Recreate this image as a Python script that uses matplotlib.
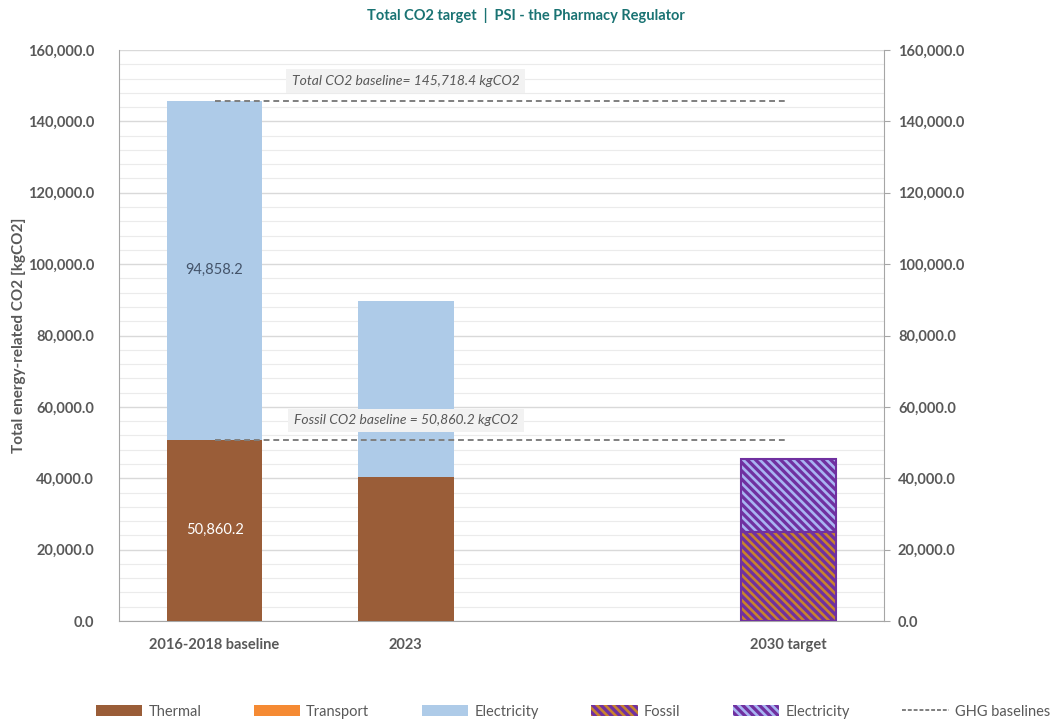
import matplotlib.pyplot as plt
from matplotlib.patches import Patch
from matplotlib.lines import Line2D
from matplotlib.ticker import MultipleLocator, FuncFormatter

plt.rcParams['font.family'] = ['Lato', 'DejaVu Sans']
plt.rcParams['hatch.linewidth'] = 1.9

# Data
categories = ['2016-2018 baseline', '2023', '', '2030 target']
thermal = [50860.2, 40400.0, 0, 0]
electricity = [94858.2, 49300.0, 0, 0]
target_fossil = [0, 0, 0, 24900.0]
target_electricity = [0, 0, 0, 20500.0]
total_baseline = 145718.4
fossil_baseline = 50860.2

c_thermal = '#9A5D38'
c_transport = '#F58A33'
c_elec = '#AECBE8'
c_purple = '#7030A0'
c_fossil_hatch = '#C8822E'
c_elec_hatch = '#A8B4F2'
grey_txt = '#595959'
hatch = '\\\\\\\\'

fig = plt.figure(figsize=(10.51, 7.26), dpi=100)
ax = fig.add_axes([0.1132, 0.1446, 0.7279, 0.7865])
x = list(range(len(categories)))
w = 0.5

ax.bar(x, thermal, w, color=c_thermal, zorder=3)
ax.bar(x, electricity, w, bottom=thermal, color=c_elec, zorder=3)

# hatched target bars
ax.bar(x, target_fossil, w, color=c_purple, edgecolor=c_fossil_hatch,
       hatch=hatch, linewidth=0, zorder=3)
ax.bar(x, target_electricity, w, bottom=target_fossil, color=c_purple,
       edgecolor=c_elec_hatch, hatch=hatch, linewidth=0, zorder=3)
ax.bar(x[3], target_fossil[3], w, fill=False, edgecolor=c_purple, linewidth=1.5, zorder=4)
ax.bar(x[3], target_electricity[3], w, bottom=target_fossil[3], fill=False,
       edgecolor=c_purple, linewidth=1.5, zorder=4)

# baselines
ax.plot([x[0], x[3]], [total_baseline, total_baseline], color='#7F7F7F',
        linestyle=(0, (3, 2)), linewidth=1.4, zorder=5)
ax.plot([x[0], x[3]], [fossil_baseline, fossil_baseline], color='#7F7F7F',
        linestyle=(0, (3, 2)), linewidth=1.4, zorder=5)
ax.text(1.0, total_baseline + 5600, f'Total CO2 baseline= {total_baseline:,.1f} kgCO2',
        ha='center', va='center', style='italic', fontsize=10, color=grey_txt,
        bbox=dict(facecolor='#F2F2F2', edgecolor='none', pad=4), zorder=6)
ax.text(1.0, fossil_baseline + 5400, f'Fossil CO2 baseline = {fossil_baseline:,.1f} kgCO2',
        ha='center', va='center', style='italic', fontsize=10, color=grey_txt,
        bbox=dict(facecolor='#F2F2F2', edgecolor='none', pad=4), zorder=6)

# data labels
ax.text(x[0], thermal[0] + electricity[0] / 2, f'{electricity[0]:,.1f}', ha='center',
        va='center', fontsize=10.5, color='#44546A', zorder=6)
ax.text(x[0], thermal[0] / 2, f'{thermal[0]:,.1f}', ha='center', va='center',
        fontsize=10.5, color='white', zorder=6)

ax.set_xlim(-0.5, 3.5)
ax.set_ylim(0, 160000)
ax.yaxis.set_major_locator(MultipleLocator(20000))
ax.yaxis.set_minor_locator(MultipleLocator(4000))
fmt = FuncFormatter(lambda v, p: f'{v:,.1f}')
ax.yaxis.set_major_formatter(fmt)
ax.grid(which='major', axis='y', color='#D9D9D9', linewidth=1, zorder=0)
ax.grid(which='minor', axis='y', color='#EBEBEB', linewidth=0.8, zorder=0)
ax.set_xticks(x)
ax.set_xticklabels(categories, fontsize=10.5, fontweight='bold', color=grey_txt)
ax.tick_params(axis='x', length=0, pad=12)
ax.tick_params(axis='y', which='both', length=0, pad=18, labelsize=10.5,
               labelcolor=grey_txt)
for lab in ax.get_yticklabels():
    lab.set_fontweight('bold')
for s in ['left', 'bottom', 'right']:
    ax.spines[s].set_color('#A6A6A6')
ax.spines['top'].set_visible(False)
ax.set_ylabel('Total energy-related CO2 [kgCO2]', fontsize=11, fontweight='bold',
              color=grey_txt, labelpad=1)

ax2 = ax.twinx()
ax2.set_ylim(ax.get_ylim())
ax2.yaxis.set_major_locator(MultipleLocator(20000))
ax2.yaxis.set_major_formatter(fmt)
ax2.tick_params(axis='y', length=4, color='#A6A6A6', pad=6, labelsize=10.5,
                labelcolor=grey_txt)
for lab in ax2.get_yticklabels():
    lab.set_fontweight('bold')
for s in ['left', 'bottom', 'right', 'top']:
    ax2.spines[s].set_visible(False)

fig.text(0.5, 0.978, 'Total CO2 target  |  PSI - the Pharmacy Regulator', ha='center',
         va='center', fontsize=10.5, fontweight='bold', color='#1A7373')

handles = [
    Patch(facecolor=c_thermal, label='Thermal'),
    Patch(facecolor=c_transport, label='Transport'),
    Patch(facecolor=c_elec, label='Electricity'),
    Patch(facecolor=c_purple, edgecolor=c_fossil_hatch, hatch=hatch, linewidth=0, label='Fossil'),
    Patch(facecolor=c_purple, edgecolor=c_elec_hatch, hatch=hatch, linewidth=0, label='Electricity'),
    Line2D([], [], color='#7F7F7F', linestyle=(0, (2, 1)), linewidth=1.4, label='GHG baselines'),
]
leg = fig.legend(handles=handles, loc='lower center', bbox_to_anchor=(0.545, -0.008), ncol=6,
                 frameon=False, fontsize=10.5, handlelength=3.2, handleheight=0.8,
                 columnspacing=3.6, handletextpad=0.4)
for t in leg.get_texts():
    t.set_color(grey_txt)

fig.savefig('out.png', dpi=100)
